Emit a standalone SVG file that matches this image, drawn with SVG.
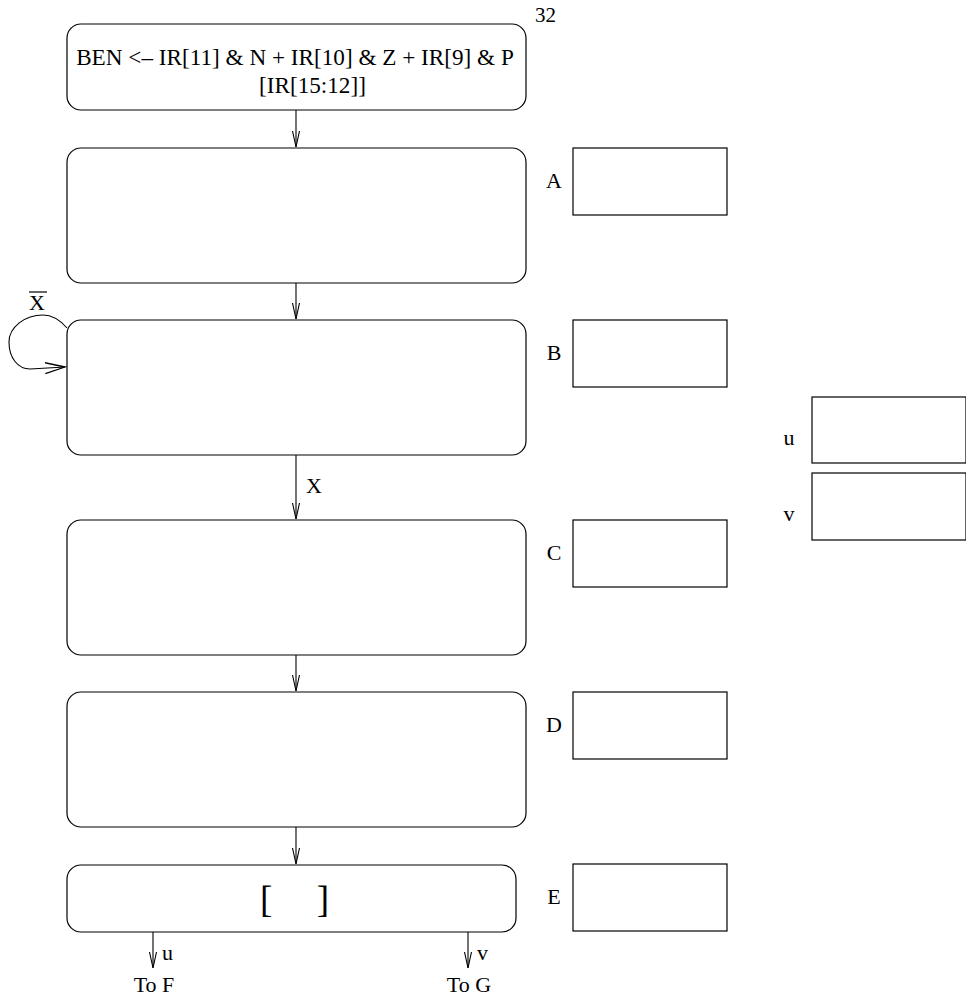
<svg xmlns="http://www.w3.org/2000/svg" width="966" height="998" viewBox="0 0 966 998">
<style>
.box{fill:#fff;stroke:#000;stroke-width:1.2}
.rbox{fill:#fff;stroke:#000;stroke-width:1.2}
.t{font-family:"Liberation Serif","Times New Roman",serif;font-size:22px;fill:#000}
.big{font-size:23.2px}
.br{font-size:37px}
.c{stroke:#000;stroke-width:1.1;fill:none}
</style>
<defs>
<marker id="ah" markerWidth="20" markerHeight="12" refX="16" refY="6" orient="auto" markerUnits="userSpaceOnUse">
<polyline points="0,2.5 16,6 0,9.5" fill="none" stroke="#000" stroke-width="1.1"/>
</marker>
<marker id="ah2" markerWidth="24" markerHeight="14" refX="20" refY="7" orient="auto" markerUnits="userSpaceOnUse">
<polyline points="0,1.5 20,7 0,12.5" fill="none" stroke="#000" stroke-width="1.3"/>
</marker>
</defs>
<text class="t" x="535" y="22" style="font-size:21px">32</text>
<g id="n0">
<rect class="box" x="67" y="24" width="459" height="86" rx="14"/>
<text class="t big" x="295" y="65" text-anchor="middle">BEN &lt;– IR[11] &amp; N + IR[10] &amp; Z + IR[9] &amp; P</text>
<text class="t big" x="259" y="93">[IR[15:12]]</text>
</g>
<g id="nA"><rect class="box" x="67" y="148" width="459" height="135" rx="14"/></g>
<g id="nB"><rect class="box" x="67" y="320" width="459" height="135" rx="14"/></g>
<g id="nC"><rect class="box" x="67" y="520" width="459" height="135" rx="14"/></g>
<g id="nD"><rect class="box" x="67" y="692" width="459" height="135" rx="14"/></g>
<g id="nE">
<rect class="box" x="67" y="865" width="449" height="67" rx="14"/>
<text class="t br" x="260" y="912">[</text>
<text class="t br" x="329" y="912" text-anchor="end">]</text>
</g>
<g id="rA"><text class="t" x="554" y="188" text-anchor="middle">A</text><rect class="rbox" x="573" y="148" width="154" height="67"/></g>
<g id="rB"><text class="t" x="554" y="360" text-anchor="middle">B</text><rect class="rbox" x="573" y="320" width="154" height="67"/></g>
<g id="rC"><text class="t" x="554" y="560" text-anchor="middle">C</text><rect class="rbox" x="573" y="520" width="154" height="67"/></g>
<g id="rD"><text class="t" x="554" y="732" text-anchor="middle">D</text><rect class="rbox" x="573" y="692" width="154" height="67"/></g>
<g id="rE"><text class="t" x="554" y="904" text-anchor="middle">E</text><rect class="rbox" x="573" y="864" width="154" height="67"/></g>
<g id="ru"><text class="t" x="789" y="445" text-anchor="middle">u</text><rect class="rbox" x="812" y="397" width="154" height="66"/></g>
<g id="rv"><text class="t" x="789" y="521" text-anchor="middle">v</text><rect class="rbox" x="812" y="473" width="154" height="67"/></g>
<g id="connectors">
<line class="c" x1="296" y1="110" x2="296" y2="147" marker-end="url(#ah)"/>
<line class="c" x1="296" y1="283" x2="296" y2="319" marker-end="url(#ah)"/>
<line class="c" x1="296" y1="455" x2="296" y2="519" marker-end="url(#ah)"/>
<line class="c" x1="296" y1="655" x2="296" y2="691" marker-end="url(#ah)"/>
<line class="c" x1="296" y1="827" x2="296" y2="864" marker-end="url(#ah)"/>
<path class="c" d="M67,328 C60,320 52,315 43,315 C25,315 9,327 9,342 C9,358 18,369 30,369 L65,367" marker-end="url(#ah2)"/>
<line class="c" x1="153" y1="932" x2="153" y2="968" marker-end="url(#ah)"/>
<line class="c" x1="468" y1="932" x2="468" y2="968" marker-end="url(#ah)"/>
<text class="t" x="306" y="493">X</text>
<text class="t" x="29" y="310">X</text>
<line x1="29" y1="292" x2="47" y2="292" stroke="#000" stroke-width="1.2"/>
<text class="t" x="162" y="960">u</text>
<text class="t" x="477" y="960">v</text>
<text class="t" x="154" y="992" text-anchor="middle">To F</text>
<text class="t" x="469" y="992" text-anchor="middle">To G</text>
</g>
</svg>
